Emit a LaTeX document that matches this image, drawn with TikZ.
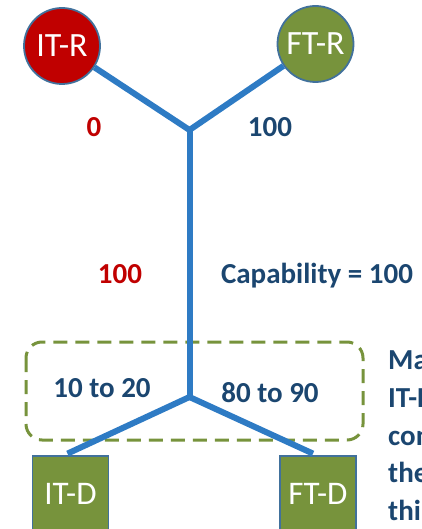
\documentclass[tikz,border=0pt]{standalone}
\usepackage{fontspec}
\setmainfont{Carlito}
\definecolor{redfill}{HTML}{C00000}
\definecolor{greenfill}{HTML}{77933C}
\definecolor{outlineblue}{HTML}{41719C}
\definecolor{lineblue}{HTML}{2E7BC4}
\definecolor{darkblue}{HTML}{1B4670}
\definecolor{redtext}{HTML}{C00000}
\tikzset{
  endcircle/.style={circle, draw=outlineblue, line width=1.8pt, minimum size=76pt, inner sep=0pt, text=white, font=\fontsize{34}{40}\selectfont},
  endbox/.style={rectangle, draw=outlineblue, line width=1.8pt, fill=greenfill, minimum width=76pt, minimum height=76pt, inner sep=0pt, text=white, font=\fontsize{33}{40}\selectfont},
  wire/.style={draw=lineblue, line width=6pt},
  lbl/.style={font=\bfseries\fontsize{29}{34}\selectfont, anchor=base, inner sep=0pt},
  sidetext/.style={font=\bfseries\fontsize{29}{34}\selectfont, anchor=base west, inner sep=0pt, text=darkblue},
  groupbox/.style={draw=greenfill, line width=3pt, dash pattern=on 14pt off 8pt, rounded corners=16pt}
}
\begin{document}
\begin{tikzpicture}[x=1pt,y=-1pt]
\useasboundingbox (0,0) rectangle (421,529);
\clip (0,0) rectangle (421,529);
% group box
\draw[groupbox] (26,342) rectangle (363,440);
% nodes
\node[endcircle, fill=redfill] (itr) at (62,46) {IT-R};
\node[endcircle, fill=greenfill] (ftr) at (315.5,44) {FT-R};
\node[endbox] (itd) at (70.5,494) {IT-D};
\node[endbox] (ftd) at (318,494) {FT-D};
\coordinate (j1) at (189.5,130);
\coordinate (j2) at (189.5,397);
% wires
\draw[wire] (itr) -- (j1);
\draw[wire] (ftr) -- (j1);
\draw[wire, line join=miter] ([yshift=1pt]j1) -- (j1) -- (j2);
\draw[wire] (j2) -- ([xshift=-3pt,yshift=1.5pt]itd.north);
\draw[wire] (j2) -- ([xshift=-5pt,yshift=1.5pt]ftd.north);
% labels
\node[lbl, text=redtext] (l0) at (94,137) {0};
\node[lbl, text=darkblue] (l100a) at (270,137) {100};
\node[lbl, text=redtext] (l100b) at (120,283) {100};
\node[lbl, text=darkblue] (lcap) at (317,283) {Capability = 100};
\node[lbl, text=darkblue] (lit) at (102,397) {10 to 20};
\node[lbl, text=darkblue] (lft) at (270,402) {80 to 90};
% side text (cut off at the right edge, as in the reference)
\node[sidetext] (s1) at (388,369) {Ma};
\node[sidetext] (s2) at (388,407) {IT-D};
\node[sidetext] (s3) at (388,445) {con};
\node[sidetext] (s4) at (388,482) {the};
\node[sidetext] (s5) at (388,520) {thi};
\end{tikzpicture}
\end{document}
